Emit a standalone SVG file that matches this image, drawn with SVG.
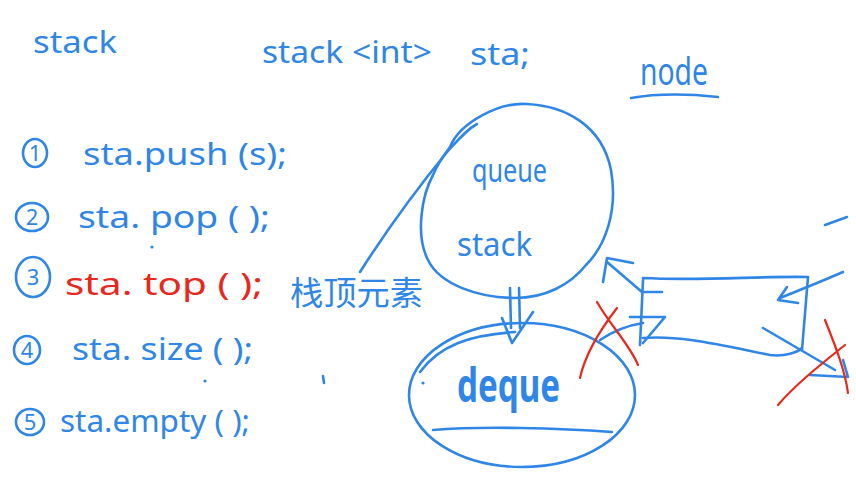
<svg xmlns="http://www.w3.org/2000/svg" width="856" height="500" viewBox="0 0 856 500">
<style>
.t{font-family:"Noto Sans","DejaVu Sans",sans-serif;fill:#2f86e6}
.r{fill:#e8281c}
.cj{font-family:"Noto Sans CJK SC","Noto Sans",sans-serif;fill:#2f86e6}
.s{fill:none;stroke:#2f86e6;stroke-width:2.6;stroke-linecap:round;stroke-linejoin:round}
.sr{fill:none;stroke:#e8281c;stroke-width:2.2;stroke-linecap:round}
</style>
<rect width="856" height="500" fill="#ffffff"/>
<g id="title">
<text class="t" x="33" y="53" font-size="30" textLength="84" lengthAdjust="spacingAndGlyphs">stack</text>
<text class="t" x="262" y="63" font-size="30" textLength="170" lengthAdjust="spacingAndGlyphs">stack &lt;int&gt;</text>
<text class="t" x="470" y="65" font-size="30" textLength="60" lengthAdjust="spacingAndGlyphs">sta;</text>
</g>
<g id="node-label">
<text class="t" x="640" y="85" font-size="38" textLength="68" lengthAdjust="spacingAndGlyphs">node</text>
<path class="s" d="M631,98 C660,93 690,94 718,97"/>
</g>
<g id="list">
<ellipse class="s" cx="35" cy="153" rx="12" ry="14"/>
<text class="t" x="35" y="161" font-size="22" text-anchor="middle">1</text>
<text class="t" x="83" y="165" font-size="31" textLength="204" lengthAdjust="spacingAndGlyphs">sta.push (s);</text>
<ellipse class="s" cx="32" cy="217" rx="16" ry="14"/>
<text class="t" x="32" y="225" font-size="22" text-anchor="middle">2</text>
<text class="t" x="78" y="228" font-size="31" textLength="192" lengthAdjust="spacingAndGlyphs">sta. pop ( );</text>
<ellipse class="s" cx="33" cy="277" rx="17" ry="20"/>
<text class="t" x="33" y="285" font-size="22" text-anchor="middle">3</text>
<text class="t r" x="65" y="295" font-size="31" textLength="198" lengthAdjust="spacingAndGlyphs">sta. top ( );</text>
<text class="cj" x="290" y="305" font-size="33" textLength="133" lengthAdjust="spacingAndGlyphs">栈顶元素</text>
<ellipse class="s" cx="27" cy="350" rx="13" ry="14"/>
<text class="t" x="27" y="358" font-size="22" text-anchor="middle">4</text>
<text class="t" x="72" y="360" font-size="31" textLength="181" lengthAdjust="spacingAndGlyphs">sta. size ( );</text>
<ellipse class="s" cx="30" cy="422" rx="14" ry="13"/>
<text class="t" x="30" y="430" font-size="22" text-anchor="middle">5</text>
<text class="t" x="60" y="432" font-size="31" textLength="190" lengthAdjust="spacingAndGlyphs">sta.empty ( );</text>
<circle cx="152" cy="247" r="1.6" fill="#2f86e6"/>
<circle cx="205" cy="381" r="1.6" fill="#2f86e6"/>
<path class="s" d="M323,376 L324,383"/>
</g>
<g id="adapters">
<path class="s" d="M450,147 C460,122 500,102 527,104 C565,106 602,125 611,170 C618,210 606,245 586,265 C570,285 545,298 515,298 C480,298 440,285 428,260 C415,235 422,195 433,175 C438,163 444,155 450,147"/>
<text class="t" x="472" y="182" font-size="32" textLength="75" lengthAdjust="spacingAndGlyphs">queue</text>
<text class="t" x="457" y="256" font-size="32" textLength="75" lengthAdjust="spacingAndGlyphs">stack</text>
</g>
<g id="deque">
<ellipse class="s" cx="522" cy="395" rx="113" ry="72"/>
<path class="s" d="M420,372 C440,345 470,335 515,332"/>
<text class="t" x="457" y="402" font-size="46" font-weight="bold" textLength="103" lengthAdjust="spacingAndGlyphs">deque</text>
<path class="s" d="M433,430 C480,426 560,428 612,432"/>
<circle cx="423" cy="383" r="1.6" fill="#2f86e6"/>
</g>
<g id="box">
<path class="s" d="M643,278 C700,281 760,276 808,277 L802,350 M643,280 L640,345 M643,338 C680,335 720,345 770,355 C785,357 798,352 802,348"/>
</g>
<g id="connectors">
<path class="s" d="M360,272 C390,225 420,185 447,152 C458,140 466,130 477,124"/>
<path class="s" d="M510,288 L511,328 M519,288 L520,328 M502,318 L512,343 L533,312"/>
<path class="s" d="M662,292 L642,292 L607,262 M603,282 L607,258 L633,263"/>
<path class="s" d="M600,340 C615,330 630,325 643,323 M630,317 L665,317 L643,343"/>
<path class="s" d="M843,272 C820,282 800,290 780,298 M787,287 L778,300 L798,303"/>
<path class="s" d="M763,328 L835,370 M810,375 L848,377 L843,360"/>
<path class="s" d="M825,225 L847,217"/>
<path class="sr" d="M597,302 C610,325 630,345 638,365 M617,308 C600,330 585,355 580,378"/>
<path class="sr" d="M825,320 C835,345 845,370 848,393 M845,345 C820,365 795,385 778,405"/>
</g>
</svg>
